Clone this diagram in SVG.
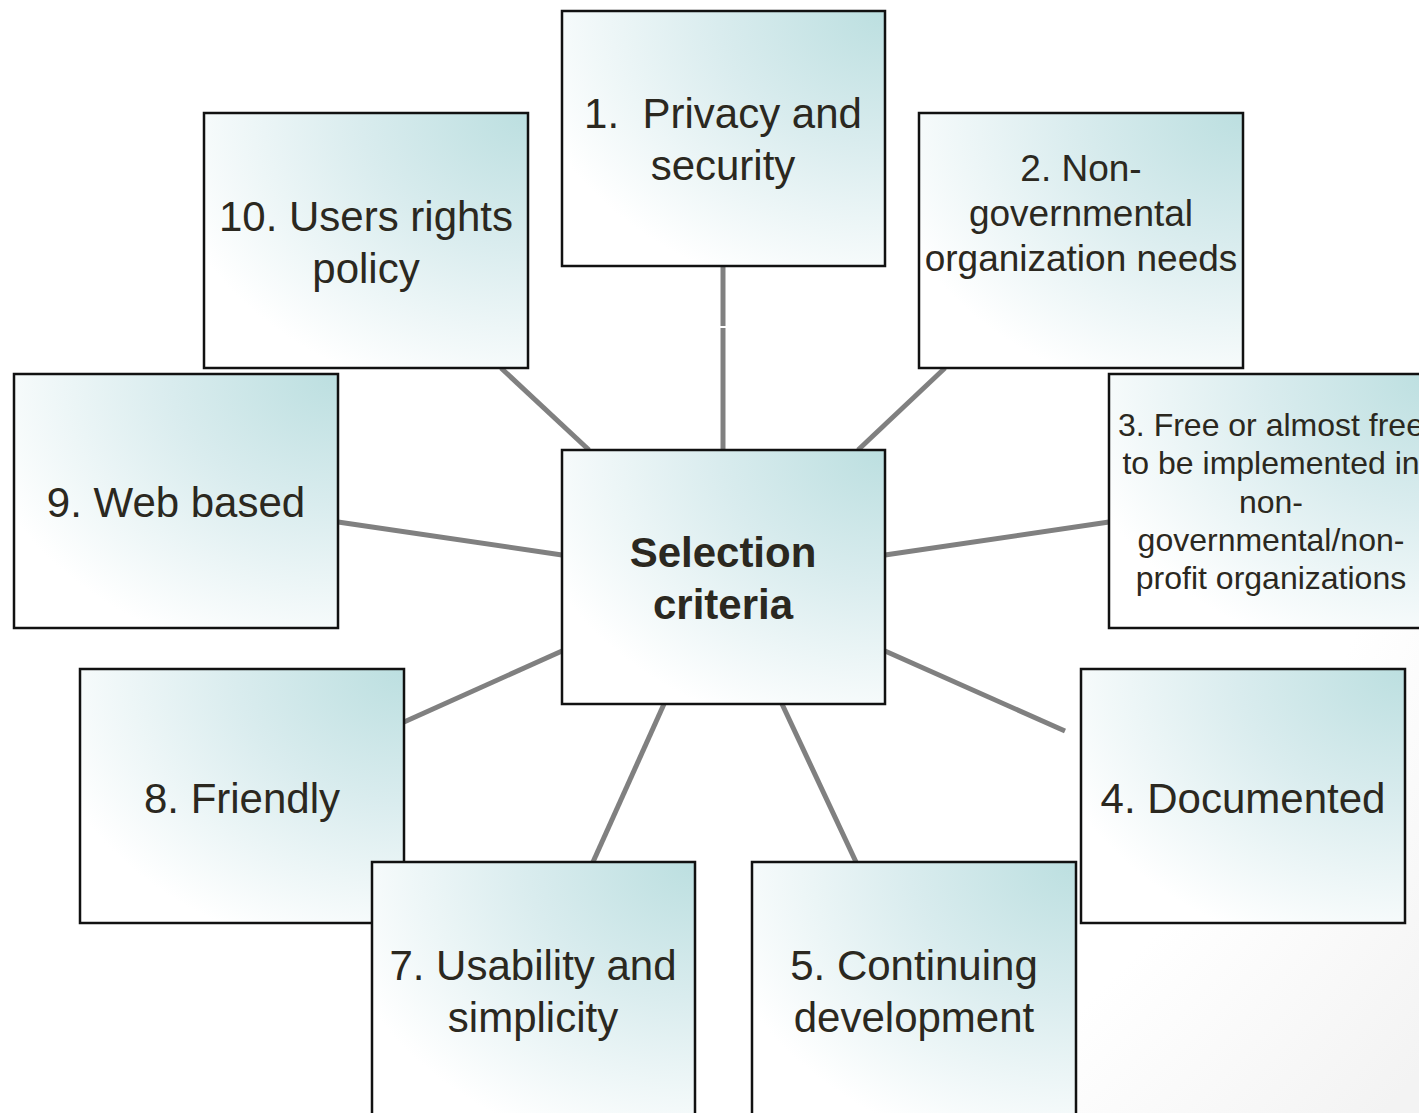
<svg xmlns="http://www.w3.org/2000/svg" width="1419" height="1113" viewBox="0 0 1419 1113">
<style>
.box{fill:url(#bg);stroke:#111;stroke-width:2.5}
.t{font-family:"Liberation Sans",Arial,sans-serif;fill:#2b2820;text-anchor:middle}
.c{stroke:#808080;stroke-width:5;fill:none}
</style>
<defs>
<radialGradient id="bg" cx="1" cy="0" r="1.15" fx="1" fy="0">
<stop offset="0" stop-color="#bcdfe0"/>
<stop offset="0.45" stop-color="#d9ecee"/>
<stop offset="1" stop-color="#ffffff"/>
</radialGradient>
<radialGradient id="page" gradientUnits="userSpaceOnUse" cx="300" cy="150" r="1450">
<stop offset="0.8" stop-color="#ffffff"/>
<stop offset="1" stop-color="#f3f3f3"/>
</radialGradient>
</defs>
<rect width="1419" height="1113" fill="url(#page)"/>
<g id="connectors">
<line class="c" x1="723" y1="266" x2="723" y2="326"/>
<line class="c" x1="723" y1="328" x2="723" y2="450"/>
<line class="c" x1="945" y1="368" x2="858" y2="450"/>
<line class="c" x1="501" y1="368" x2="589" y2="450"/>
<line class="c" x1="338" y1="522" x2="562" y2="555"/>
<line class="c" x1="1109" y1="522" x2="885" y2="555"/>
<line class="c" x1="404" y1="722" x2="562" y2="651"/>
<line class="c" x1="885" y1="651" x2="1065" y2="731"/>
<line class="c" x1="664" y1="704" x2="593" y2="862"/>
<line class="c" x1="782" y1="704" x2="856" y2="862"/>
</g>
<g id="n1">
<rect class="box" x="562" y="11" width="323" height="255"/>
<text class="t" font-size="42"><tspan x="723" y="128" xml:space="preserve">1.  Privacy and</tspan><tspan x="723" y="180">security</tspan></text>
</g>
<g id="n2">
<rect class="box" x="919" y="113" width="324" height="255"/>
<text class="t" font-size="37"><tspan x="1081" y="181">2. Non-</tspan><tspan x="1081" y="226">governmental</tspan><tspan x="1081" y="271">organization needs</tspan></text>
</g>
<g id="n3">
<rect class="box" x="1109" y="374" width="324" height="254"/>
<text class="t" font-size="32"><tspan x="1271" y="436">3. Free or almost free</tspan><tspan x="1271" y="474">to be implemented in</tspan><tspan x="1271" y="513">non-</tspan><tspan x="1271" y="551">governmental/non-</tspan><tspan x="1271" y="589">profit organizations</tspan></text>
</g>
<g id="n4">
<rect class="box" x="1081" y="669" width="324" height="254"/>
<text class="t" font-size="42"><tspan x="1243" y="813">4. Documented</tspan></text>
</g>
<g id="n5">
<rect class="box" x="752" y="862" width="324" height="260"/>
<text class="t" font-size="42"><tspan x="914" y="980">5. Continuing</tspan><tspan x="914" y="1032">development</tspan></text>
</g>
<g id="n8">
<rect class="box" x="80" y="669" width="324" height="254"/>
<text class="t" font-size="42"><tspan x="242" y="813">8. Friendly</tspan></text>
</g>
<g id="n7">
<rect class="box" x="372" y="862" width="323" height="260"/>
<text class="t" font-size="42"><tspan x="533" y="980">7. Usability and</tspan><tspan x="533" y="1032">simplicity</tspan></text>
</g>
<g id="n9">
<rect class="box" x="14" y="374" width="324" height="254"/>
<text class="t" font-size="42"><tspan x="176" y="517">9. Web based</tspan></text>
</g>
<g id="n10">
<rect class="box" x="204" y="113" width="324" height="255"/>
<text class="t" font-size="42"><tspan x="366" y="231">10. Users rights</tspan><tspan x="366" y="283">policy</tspan></text>
</g>
<g id="center">
<rect class="box" x="562" y="450" width="323" height="254"/>
<text class="t" font-size="42" font-weight="bold"><tspan x="723" y="567">Selection</tspan><tspan x="723" y="619">criteria</tspan></text>
</g>
</svg>
